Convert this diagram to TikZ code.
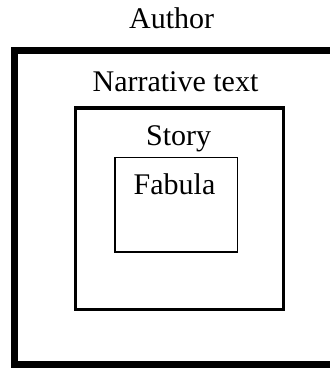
\documentclass[tikz,border=0pt]{standalone}
\usepackage{fontspec}
\setmainfont{Liberation Serif}
\begin{document}
\begin{tikzpicture}[x=1pt,y=-1pt,
  box/.style={draw,rectangle,inner sep=0pt},
  lbl/.style={anchor=base,inner sep=0pt,font=\fontsize{30}{36}\selectfont}]
\useasboundingbox (0,0) rectangle (330,368);
\clip (0,0) rectangle (330,368);
\node[box,line width=7.5pt,minimum width=325.5pt,minimum height=314pt] (outer) at (177.25,207.5) {};
\node[box,line width=3.5pt,minimum width=208.4pt,minimum height=201.3pt] (middle) at (179.5,208.65) {};
\node[box,line width=1.5pt,minimum width=122.3pt,minimum height=94.3pt] (inner) at (176.35,204.65) {};
\node[lbl] (author) at (171.7,28.3) {Author};
\node[lbl] (narr) at (175.5,91.7) {Narrative text};
\node[lbl] (story) at (178.7,145) {Story};
\node[lbl] (fabula) at (174.5,194.3) {Fabula};
\end{tikzpicture}
\end{document}
